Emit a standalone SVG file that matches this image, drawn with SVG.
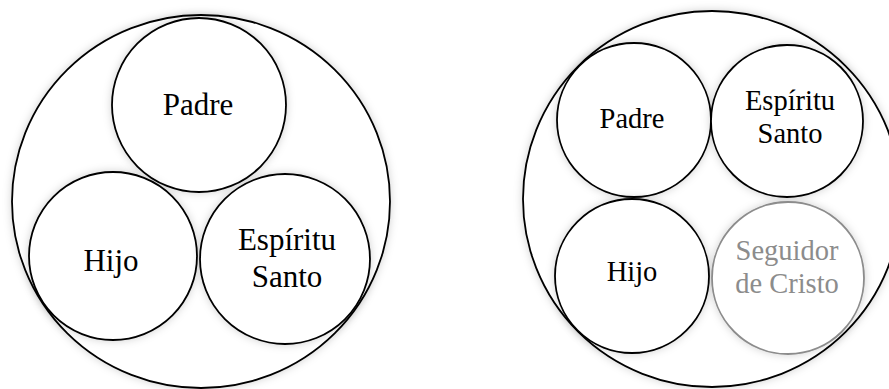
<svg xmlns="http://www.w3.org/2000/svg" width="889" height="389" viewBox="0 0 889 389">
<style>
.c{fill:#fff;stroke:#000;stroke-width:1.8;filter:url(#sh)}
.g{stroke:#8c8c8c}
text{text-anchor:middle;fill:#000}
.tg{fill:#8c8c8c}
</style>
<defs>
<filter id="sh" x="-10%" y="-10%" width="120%" height="120%">
<feDropShadow dx="0" dy="0" stdDeviation="4" flood-color="#000" flood-opacity="0.18"/>
</filter>
</defs>
<rect width="889" height="389" fill="#fff"/>
<g font-family="Liberation Serif, Times New Roman, serif">
<g id="outer-left"><ellipse class="c" cx="201" cy="201.5" rx="189" ry="186.5"/></g>
<g id="padre-left"><circle class="c" cx="199" cy="105" r="87"/><text x="198" y="115" font-size="31">Padre</text></g>
<g id="hijo-left"><circle class="c" cx="113" cy="256" r="84"/><text x="111" y="271" font-size="31">Hijo</text></g>
<g id="espiritu-left"><circle class="c" cx="285" cy="259" r="85"/><text x="287" y="250" font-size="31">Espíritu</text><text x="287" y="287" font-size="31">Santo</text></g>
<g id="outer-right"><ellipse class="c" cx="712" cy="199" rx="189" ry="188"/></g>
<g id="padre-right"><circle class="c" cx="634" cy="120" r="77"/><text x="632" y="128" font-size="28.5">Padre</text></g>
<g id="espiritu-right"><circle class="c" cx="787" cy="121" r="76"/><text x="790" y="110" font-size="28.5">Espíritu</text><text x="790" y="143" font-size="28.5">Santo</text></g>
<g id="hijo-right"><circle class="c" cx="632" cy="276" r="77"/><text x="632" y="281" font-size="28.5">Hijo</text></g>
<g id="seguidor-right"><circle class="c g" cx="788" cy="278" r="76"/><text class="tg" x="787" y="260" font-size="28.5">Seguidor</text><text class="tg" x="787" y="293" font-size="28.5">de Cristo</text></g>
</g>
<g id="connectors"/>
</svg>
